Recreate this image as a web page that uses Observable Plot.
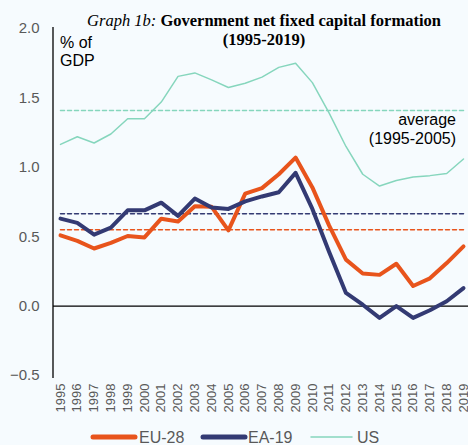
<!DOCTYPE html>
<html>
<head>
<meta charset="utf-8">
<script src="https://cdn.jsdelivr.net/npm/d3@7"></script>
<script src="https://cdn.jsdelivr.net/npm/@observablehq/plot@0.6"></script>
<style>
  html, body { margin: 0; padding: 0; background: #f6fbfe; }
  #chart { width: 468px; height: 445px; }
</style>
</head>
<body>
<div id="chart"></div>
<script>
const years = [1995,1996,1997,1998,1999,2000,2001,2002,2003,2004,2005,2006,2007,2008,2009,2010,2011,2012,2013,2014,2015,2016,2017,2018,2019];
const eu28 = [0.51,0.47,0.415,0.455,0.505,0.495,0.63,0.61,0.72,0.715,0.545,0.81,0.85,0.95,1.07,0.855,0.58,0.335,0.235,0.225,0.305,0.145,0.2,0.31,0.43];
const ea19 = [0.63,0.6,0.515,0.565,0.69,0.69,0.745,0.65,0.775,0.71,0.70,0.755,0.79,0.82,0.96,0.70,0.39,0.095,0.01,-0.085,0.0,-0.085,-0.03,0.035,0.13];
const us   = [1.165,1.22,1.175,1.24,1.35,1.35,1.47,1.655,1.68,1.63,1.575,1.605,1.65,1.72,1.75,1.61,1.39,1.15,0.95,0.865,0.905,0.93,0.94,0.955,1.06];
const averages = {eu28: 0.55, ea19: 0.665, us: 1.41};
const yTicks = [-0.5, 0, 0.5, 1.0, 1.5, 2.0];
const seriesNames = ["EU-28", "EA-19", "US"];
const colors = {eu28: "#e8541c", ea19: "#333a73", us: "#86d6bd"};

const rows = years.map((yr, i) => ({year: yr, eu28: eu28[i], ea19: ea19[i], us: us[i],
  euAvg: averages.eu28, eaAvg: averages.ea19, usAvg: averages.us}));

const gray = "#595959";
const chart = Plot.plot({
  width: 468, height: 445,
  marginLeft: 53, marginRight: 0, marginTop: 28, marginBottom: 70,
  x: {domain: [1995, 2019], insetLeft: 7, insetRight: 5},
  y: {domain: [-0.5, 2.0]},
  style: {background: "#f6fbfe", fontFamily: "'Liberation Sans', Arial, sans-serif", overflow: "visible"},
  marks: [
    Plot.ruleY([0], {stroke: "#000", strokeWidth: 1.3}),
    Plot.axisY({ticks: yTicks, tickSize: 0, tickPadding: 14, tickFormat: d3.format(".1f"), fontSize: 15, fill: gray, label: null}),
    Plot.axisX({ticks: years, tickSize: 0, tickPadding: 8, tickRotate: -90, tickFormat: d => String(d), fontSize: 13, fill: gray, label: null}),
    Plot.line(rows, {x: "year", y: "usAvg", stroke: colors.us, strokeWidth: 1.5, strokeDasharray: "4,3"}),
    Plot.line(rows, {x: "year", y: "eaAvg", stroke: colors.ea19, strokeWidth: 1.5, strokeDasharray: "4,3"}),
    Plot.line(rows, {x: "year", y: "euAvg", stroke: colors.eu28, strokeWidth: 1.5, strokeDasharray: "4,3"}),
    Plot.line(rows, {x: "year", y: "us", stroke: colors.us, strokeWidth: 1.5}),
    Plot.line(rows, {x: "year", y: "eu28", stroke: colors.eu28, strokeWidth: 4}),
    Plot.line(rows, {x: "year", y: "ea19", stroke: colors.ea19, strokeWidth: 4})
  ]
});

const svg = d3.select(chart);
const ys = chart.scale("y");
// left axis line
svg.append("line").attr("x1", 53).attr("x2", 53)
  .attr("y1", ys.apply(2.0) - 1).attr("y2", ys.apply(-0.5) + 3)
  .attr("stroke", "#000").attr("stroke-width", 1.3);
// Title
const serif = "'Liberation Serif', 'Times New Roman', serif";
const t = svg.append("text").attr("x", 264).attr("y", 26).attr("text-anchor", "middle")
  .style("font-family", serif).style("font-size", "16.5px").attr("fill", "#000");
t.append("tspan").style("font-style", "italic").text("Graph 1b: ");
t.append("tspan").style("font-weight", "bold").text("Government net fixed capital formation");
svg.append("text").attr("x", 264).attr("y", 45).attr("text-anchor", "middle")
  .style("font-family", serif).style("font-size", "16.5px").style("font-weight", "bold")
  .text("(1995-2019)");
// unit label
const u = svg.append("text").attr("text-anchor", "start").style("font-size", "16px").attr("fill", "#000");
u.append("tspan").attr("x", 60).attr("y", 48).text("% of");
u.append("tspan").attr("x", 60).attr("y", 66).text("GDP");
// average label
const a = svg.append("text").attr("text-anchor", "end").style("font-size", "16px").attr("fill", "#000");
a.append("tspan").attr("x", 456).attr("y", 125).text("average");
a.append("tspan").attr("x", 456).attr("y", 144).text("(1995-2005)");
// legend
const legend = [
  {name: seriesNames[0], color: colors.eu28, w: 5, x1: 93, x2: 135, tx: 139},
  {name: seriesNames[1], color: colors.ea19, w: 5, x1: 203, x2: 245, tx: 248},
  {name: seriesNames[2], color: colors.us, w: 1.5, x1: 311, x2: 352, tx: 357}
];
const lg = svg.append("g");
legend.forEach(l => {
  lg.append("line").attr("x1", l.x1).attr("x2", l.x2).attr("y1", 437).attr("y2", 437)
    .attr("stroke", l.color).attr("stroke-width", l.w).attr("stroke-linecap", "round");
  lg.append("text").attr("x", l.tx).attr("y", 443).attr("text-anchor", "start")
    .style("font-size", "16px").attr("fill", gray).text(l.name);
});
document.getElementById("chart").appendChild(chart);
</script>
</body>
</html>
